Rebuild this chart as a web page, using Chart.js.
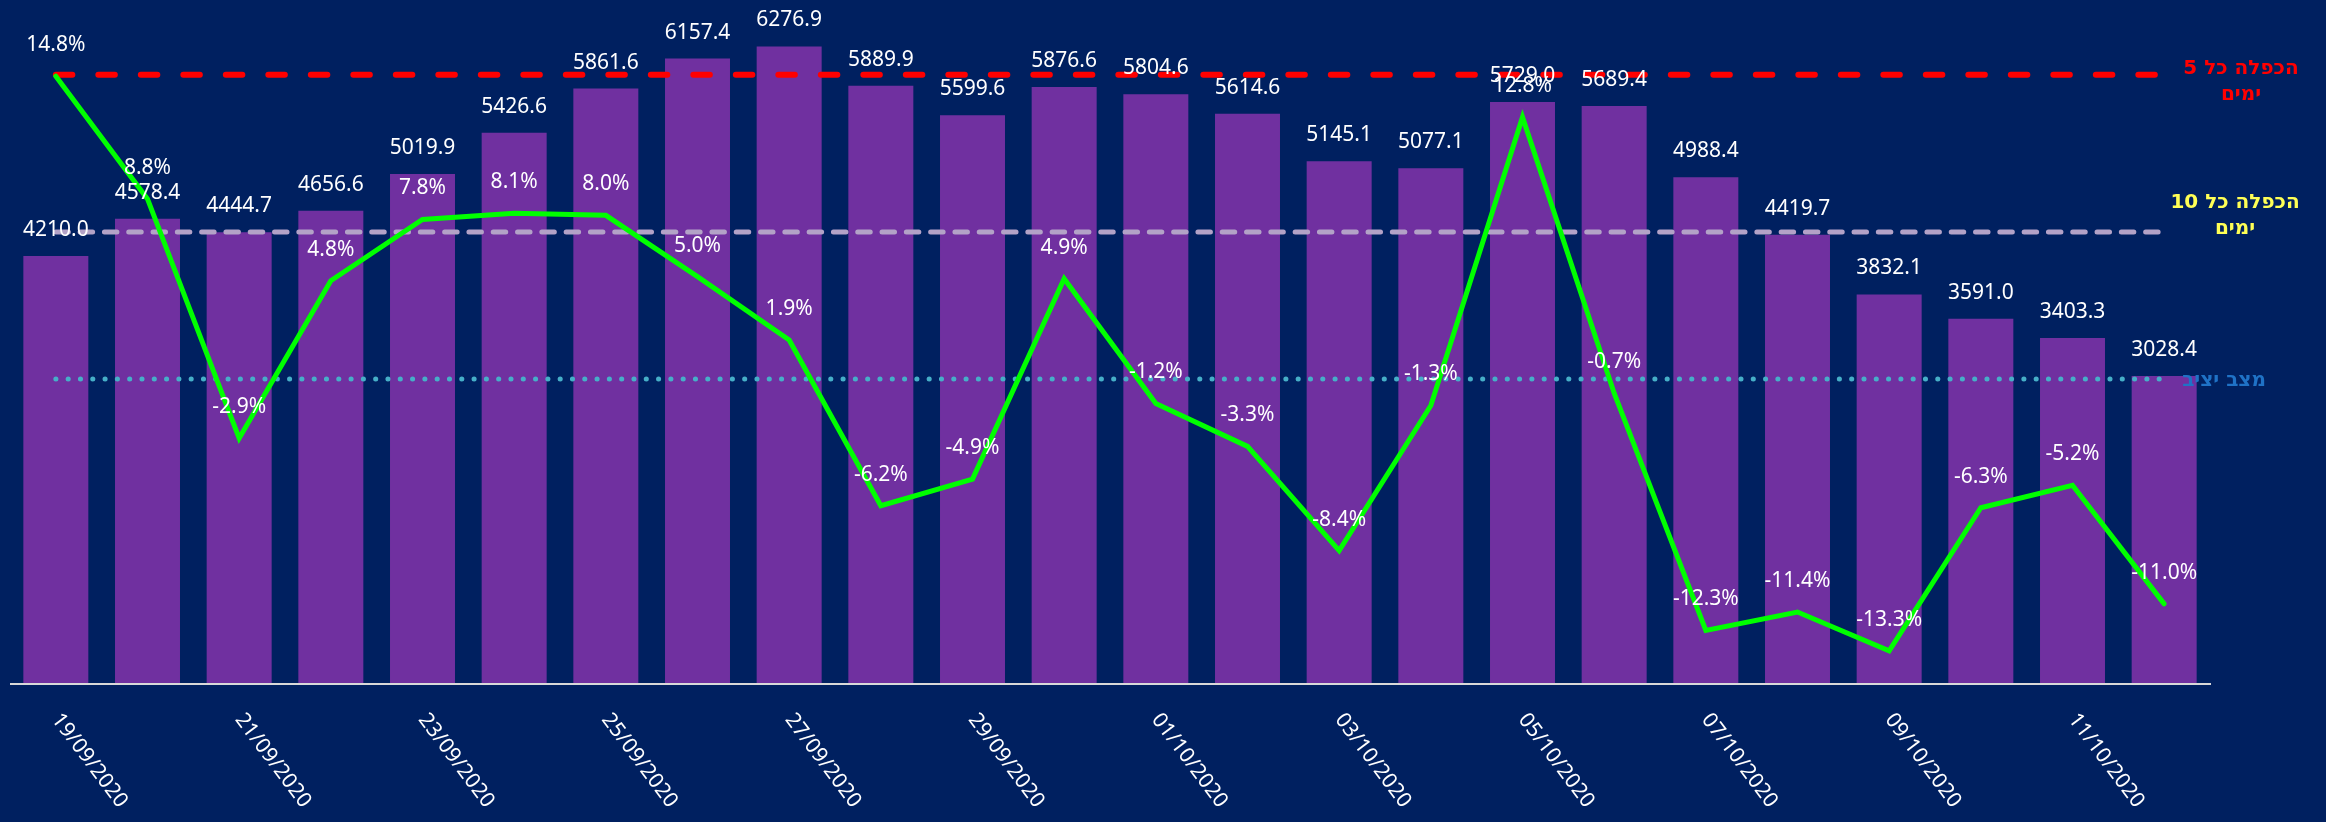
<!DOCTYPE html>
<html>
<head>
<meta charset="utf-8">
<script src="https://cdn.jsdelivr.net/npm/chart.js@4.4.0/dist/chart.umd.min.js"></script>
<style>
    html, body { margin: 0; padding: 0; background: #002060; }
    #wrap { width: 2326px; height: 822px; }
</style>
</head>
<body>
<div id="wrap"><canvas id="casesChart" width="2326" height="822"></canvas></div>
<script>
// Daily values (bars) and change in % (green line)
const dates = [
    '19/09/2020', '20/09/2020', '21/09/2020', '22/09/2020', '23/09/2020', '24/09/2020',
    '25/09/2020', '26/09/2020', '27/09/2020', '28/09/2020', '29/09/2020', '30/09/2020',
    '01/10/2020', '02/10/2020', '03/10/2020', '04/10/2020', '05/10/2020', '06/10/2020',
    '07/10/2020', '08/10/2020', '09/10/2020', '10/10/2020', '11/10/2020', '12/10/2020'
];
const cases = [
    4210.0, 4578.4, 4444.7, 4656.6, 5019.9, 5426.6, 5861.6, 6157.4, 6276.9, 5889.9, 5599.6, 5876.6,
    5804.6, 5614.6, 5145.1, 5077.1, 5729.0, 5689.4, 4988.4, 4419.7, 3832.1, 3591.0, 3403.3, 3028.4
];
const changePct = [
    14.8, 8.8, -2.9, 4.8, 7.8, 8.1, 8.0, 5.0, 1.9, -6.2, -4.9, 4.9,
    -1.2, -3.3, -8.4, -1.3, 12.8, -0.7, -12.3, -11.4, -13.3, -6.3, -5.2, -11.0
];

// Reference levels (%)
const doubling5 = 14.87;
const doubling10 = 7.18;
const stableLevel = 0;
const refLabels = {
    d5: ['הכפלה כל 5', 'ימים'],
    d10: ['הכפלה כל 10', 'ימים'],
    stable: ['מצב יציב']
};

const LABEL_FONT = "21px 'Noto Sans', 'Open Sans', sans-serif";
const SIDE_FONT = "bold 20px 'DejaVu Sans', sans-serif";

// Value labels, side labels, axis line and rotated dates
const labelsPlugin = {
    id: 'customLabels',
    afterDatasetsDraw(chart) {
        const ctx = chart.ctx;
        const area = chart.chartArea;
        const y1 = chart.scales.y1;
        const x = chart.scales.x;

        ctx.save();
        // axis line
        ctx.strokeStyle = '#d9d9d9';
        ctx.lineWidth = 2;
        ctx.beginPath();
        ctx.moveTo(area.left, area.bottom + 1);
        ctx.lineTo(area.right + 1, area.bottom + 1);
        ctx.stroke();

        ctx.font = LABEL_FONT;
        ctx.fillStyle = '#ffffff';
        ctx.textAlign = 'center';
        ctx.textBaseline = 'middle';

        // bar values
        chart.getDatasetMeta(4).data.forEach(function (bar, i) {
            ctx.fillText(cases[i].toFixed(1), bar.x, bar.y - 26);
        });
        // percent values
        chart.getDatasetMeta(0).data.forEach(function (pt, i) {
            ctx.fillText(changePct[i].toFixed(1) + '%', pt.x, pt.y - 31);
        });

        // side labels (Hebrew)
        ctx.direction = 'rtl';
        ctx.font = SIDE_FONT;
        let yy = y1.getPixelForValue(doubling5);
        ctx.fillStyle = '#ff0000';
        ctx.fillText(refLabels.d5[0], 2241, yy - 6);
        ctx.fillText(refLabels.d5[1], 2241, yy + 20);
        yy = y1.getPixelForValue(doubling10);
        ctx.fillStyle = '#ffff55';
        ctx.fillText(refLabels.d10[0], 2235, yy - 29);
        ctx.fillText(refLabels.d10[1], 2235, yy - 3);
        yy = y1.getPixelForValue(stableLevel);
        ctx.fillStyle = '#1f72c6';
        ctx.fillText(refLabels.stable[0], 2224, yy + 2);
        ctx.direction = 'ltr';

        // rotated date labels, every second day
        ctx.font = LABEL_FONT;
        ctx.fillStyle = '#ffffff';
        ctx.textAlign = 'left';
        ctx.textBaseline = 'middle';
        dates.forEach(function (d, i) {
            if (i % 2 !== 0) return;
            const px = x.getPixelForValue(i);
            ctx.save();
            ctx.translate(px, area.bottom + 33);
            ctx.rotate(53 * Math.PI / 180);
            ctx.fillText(d, 0, 0);
            ctx.restore();
        });
        ctx.restore();
    }
};

function constantSeries(v) {
    return dates.map(function () { return v; });
}

function initializeCasesChart() {
    const ctx = document.getElementById('casesChart');
    new Chart(ctx, {
        type: 'bar',
        data: {
            labels: dates,
            datasets: [
                {
                    type: 'line',
                    label: 'שינוי',
                    data: changePct,
                    borderColor: '#00ff00',
                    borderWidth: 5,
                    pointRadius: 0,
                    tension: 0,
                    fill: false,
                    borderCapStyle: 'round',
                    yAxisID: 'y1'
                },
                {
                    type: 'line',
                    label: 'הכפלה כל 5 ימים',
                    data: constantSeries(doubling5),
                    borderColor: '#ff0000',
                    borderWidth: 6,
                    borderDash: [16.5, 26],
                    borderCapStyle: 'round',
                    pointRadius: 0,
                    fill: false,
                    yAxisID: 'y1'
                },
                {
                    type: 'line',
                    label: 'הכפלה כל 10 ימים',
                    data: constantSeries(doubling10),
                    borderColor: '#b3a2c7',
                    borderWidth: 5,
                    borderDash: [12.5, 11.8],
                    borderCapStyle: 'round',
                    pointRadius: 0,
                    fill: false,
                    yAxisID: 'y1'
                },
                {
                    type: 'line',
                    label: 'מצב יציב',
                    data: constantSeries(stableLevel),
                    borderColor: '#46afc8',
                    borderWidth: 5,
                    borderDash: [0.1, 12.2],
                    borderCapStyle: 'round',
                    pointRadius: 0,
                    fill: false,
                    yAxisID: 'y1'
                },
                {
                    type: 'bar',
                    label: 'ממוצע',
                    data: cases,
                    backgroundColor: '#7030a0',
                    borderWidth: 0,
                    barPercentage: 0.709,
                    categoryPercentage: 1,
                    yAxisID: 'y'
                }
            ]
        },
        options: {
            responsive: false,
            animation: false,
            devicePixelRatio: 1,
            layout: {
                padding: { left: 10, right: 116, top: 20, bottom: 139 }
            },
            plugins: {
                legend: { display: false },
                tooltip: { enabled: false }
            },
            scales: {
                x: { display: false, offset: true },
                y: { display: false, min: 0, max: 6538 },
                y1: { display: false, min: -14.87, max: 17.55 }
            }
        },
        plugins: [labelsPlugin]
    });
}

document.addEventListener('DOMContentLoaded', initializeCasesChart);
</script>
</body>
</html>
